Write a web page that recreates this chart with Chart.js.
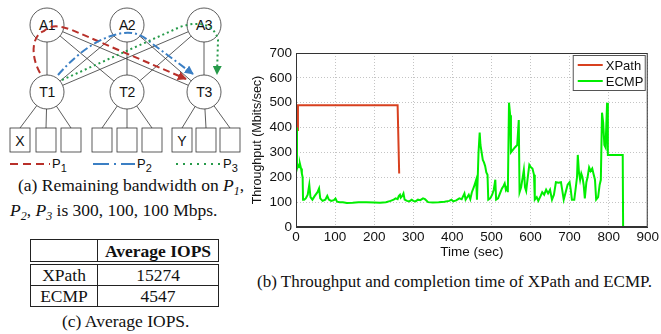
<!DOCTYPE html>
<html>
<head>
<meta charset="utf-8">
<script src="https://cdn.jsdelivr.net/npm/chart.js@4.4.1/dist/chart.umd.min.js"></script>
<style>
  html, body { margin: 0; padding: 0; background: #fff; }
  body { width: 661px; height: 334px; position: relative; overflow: hidden; }
  #diagram { position: absolute; left: 0; top: 0; }
  .cap { position: absolute; font-family: "Liberation Serif", "Times New Roman", serif; font-size: 17.5px; color: #111; white-space: nowrap; }
  .cap i { font-style: italic; }
  .cap sub { font-size: 12px; vertical-align: -4px; font-style: italic; }
  #iops { position: absolute; left: 30px; top: 239px; width: 189px; border-collapse: collapse;
          font-family: "Liberation Serif", "Times New Roman", serif; font-size: 17.5px; color: #111; }
  #iops td { border: 1.5px solid #222; text-align: center; padding: 0; height: 20px; line-height: 20px; }
  #iops tr.head td { border-bottom: 4px double #222; height: 21px; }
  #chartBox { position: absolute; left: 250px; top: 40px; width: 411px; height: 220px; }
</style>
</head>
<body>
<svg id="diagram" width="250" height="175" xmlns="http://www.w3.org/2000/svg"></svg>

<div class="cap" style="left:18px; top:175px;">(a) Remaining bandwidth on <i>P</i><sub>1</sub>,</div>
<div class="cap" style="left:10px; top:200px;"><i>P</i><sub>2</sub>, <i>P</i><sub>3</sub> is 300, 100, 100 Mbps.</div>

<table id="iops">
  <tr class="head"><td style="width:66px"></td><td><b>Average IOPS</b></td></tr>
  <tr><td>XPath</td><td>15274</td></tr>
  <tr><td>ECMP</td><td>4547</td></tr>
</table>
<div class="cap" style="left:62px; top:311px;">(c) Average IOPS.</div>

<div id="chartBox"><canvas id="throughputChart" width="411" height="220"></canvas></div>
<div class="cap" style="left:257px; top:272px; font-size:17px;">(b) Throughput and completion time of XPath and ECMP.</div>

<script>
(() => {
    'use strict';

    // XPath throughput
    const xpathTime = [3, 5, 260, 264];
    const xpathThroughput = [390, 490, 490, 215];

    // ECMP throughput
    const ecmpTime = [2, 2.5, 5, 8, 10, 13, 15, 17, 18, 21, 25, 30, 34, 37, 42, 48, 55, 59, 62, 68, 75, 80, 84, 90, 97, 101, 105, 112, 120, 130, 145, 160, 180, 200, 215, 230, 242, 250, 255, 260, 263, 266, 268, 272, 275, 278, 284, 290, 296, 300, 306, 312, 318, 325, 330, 338, 350, 365, 380, 392, 398, 402, 410, 418, 424, 428, 431, 434, 438, 442, 446, 450, 455, 459, 461, 463, 465, 467, 470, 472, 475, 478, 481, 484, 487, 490, 492, 497, 502, 506, 510, 512, 517, 522, 527, 531, 534, 537, 540, 542, 545, 548, 550, 555, 560, 566, 570, 572, 576, 580, 583, 586, 589, 593, 597, 601, 605, 609, 611, 616, 620, 626, 630, 635, 640, 645, 650, 655, 660, 665, 672, 678, 681, 685, 690, 695, 700, 703, 706, 712, 716, 719, 721, 724, 727, 730, 733, 736, 739, 743, 746, 750, 754, 758, 761, 765, 768, 773, 777, 780, 783, 786, 789, 792, 796, 798, 836, 837];
    const ecmpThroughput = [400, 235, 250, 240, 255, 235, 215, 200, 110, 110, 115, 130, 170, 120, 110, 125, 140, 155, 115, 105, 110, 125, 110, 105, 108, 115, 102, 100, 100, 97, 98, 100, 100, 99, 98, 100, 105, 110, 115, 112, 125, 130, 118, 125, 135, 110, 105, 103, 110, 105, 103, 110, 108, 115, 112, 100, 99, 100, 102, 105, 110, 103, 107, 115, 112, 125, 135, 110, 120, 130, 112, 140, 160, 180, 190, 110, 200, 300, 380, 330, 300, 270, 260, 245, 220, 210, 110, 115, 130, 150, 190, 110, 115, 135, 155, 165, 175, 150, 160, 140, 500, 450, 300, 310, 320, 330, 430, 140, 160, 200, 230, 160, 145, 200, 250, 240, 235, 210, 110, 120, 105, 125, 140, 130, 150, 135, 150, 110, 130, 180, 178, 180, 150, 110, 140, 170, 180, 150, 110, 110, 160, 200, 290, 220, 190, 215, 200, 170, 115, 180, 200, 240, 225, 235, 215, 190, 110, 120, 170, 190, 460, 420, 330, 320, 500, 290, 290, 0];

    const seriesNames = ['XPath', 'ECMP'];
    const seriesColors = ['#d8401f', '#00ee00'];

    const toPoints = (xs, ys) => xs.map((x, i) => ({ x: x, y: ys[i] }));

    // ---------- diagram (a) ----------
    const svg = document.getElementById('diagram');
    const NS = 'http://www.w3.org/2000/svg';
    function el(tag, attrs, text) {
        const e = document.createElementNS(NS, tag);
        for (const k in attrs) e.setAttribute(k, attrs[k]);
        if (text) e.textContent = text;
        svg.appendChild(e);
        return e;
    }

    const defs = el('defs', {});
    [['arR', '#b8302a'], ['arB', '#3b7fc4'], ['arG', '#279a4a']].forEach(([id, c]) => {
        const m = document.createElementNS(NS, 'marker');
        m.setAttribute('id', id);
        m.setAttribute('viewBox', '0 0 10 10');
        m.setAttribute('refX', '9');
        m.setAttribute('refY', '5');
        m.setAttribute('markerWidth', '4.5');
        m.setAttribute('markerHeight', '4.5');
        m.setAttribute('orient', 'auto');
        const p = document.createElementNS(NS, 'path');
        p.setAttribute('d', 'M0,0 L10,5 L0,10 z');
        p.setAttribute('fill', c);
        m.appendChild(p);
        defs.appendChild(m);
    });

    const R = 17;
    const aggs = [[47, 25, 'A1'], [127, 25, 'A2'], [204, 25, 'A3']];
    const tors = [[47, 92, 'T1'], [127, 92, 'T2'], [204, 92, 'T3']];
    const boxes = [[10, 'X'], [36, ''], [61, ''], [92, ''], [117, ''], [142, ''], [172, 'Y'], [196, ''], [220, '']];

    // A-T mesh
    aggs.forEach(a => tors.forEach(t => {
        const dx = t[0] - a[0], dy = t[1] - a[1];
        const L = Math.hypot(dx, dy);
        el('line', { x1: a[0] + dx / L * R, y1: a[1] + dy / L * R, x2: t[0] - dx / L * R, y2: t[1] - dy / L * R,
            stroke: '#333', 'stroke-width': 0.8 });
    }));
    // T-box links
    boxes.forEach((b, i) => {
        const t = tors[Math.floor(i / 3)];
        const bx = b[0] + 10, by = 128;
        const dx = bx - t[0], dy = by - t[1];
        const L = Math.hypot(dx, dy);
        el('line', { x1: t[0] + dx / L * R, y1: t[1] + dy / L * R, x2: bx, y2: by, stroke: '#333', 'stroke-width': 0.8 });
        el('rect', { x: b[0], y: 128, width: 20, height: 24, fill: '#fff', stroke: '#333', 'stroke-width': 0.8 });
        if (b[1]) el('text', { x: bx, y: 146, 'text-anchor': 'middle', 'font-family': 'Liberation Sans, Arial, sans-serif', 'font-size': 14, fill: '#111' }, b[1]);
    });
    aggs.concat(tors).forEach(n => {
        el('circle', { cx: n[0], cy: n[1], r: R, fill: 'none', stroke: '#333', 'stroke-width': 0.8 });
        el('text', { x: n[0], y: n[1] + 5, 'text-anchor': 'middle', 'font-family': 'Liberation Sans, Arial, sans-serif', 'font-size': 14, fill: '#111', 'letter-spacing': '-0.5' }, n[2]);
    });

    // paths P1, P2, P3
    el('path', { d: 'M40,73 C30,55 32,35 44,31 C52,24 60,26 72,30 L186,79', fill: 'none', stroke: '#b8302a', 'stroke-width': 2, 'stroke-dasharray': '7,4', 'marker-end': 'url(#arR)' });
    el('path', { d: 'M58,75 C80,50 100,38 118,34 C130,31 140,33 150,42 L193,74', fill: 'none', stroke: '#3b7fc4', 'stroke-width': 2, 'stroke-dasharray': '8,3,2,3', 'marker-end': 'url(#arB)' });
    el('path', { d: 'M62,80 L180,27 C200,20 215,25 218,40 L217,74', fill: 'none', stroke: '#279a4a', 'stroke-width': 2, 'stroke-dasharray': '2,3', 'marker-end': 'url(#arG)' });

    // legend of the diagram
    el('line', { x1: 10, y1: 164, x2: 50, y2: 164, stroke: '#b8302a', 'stroke-width': 2, 'stroke-dasharray': '8,5' });
    el('line', { x1: 93, y1: 164, x2: 135, y2: 164, stroke: '#3b7fc4', 'stroke-width': 2, 'stroke-dasharray': '16,5,2,5' });
    el('line', { x1: 176, y1: 164, x2: 221, y2: 164, stroke: '#279a4a', 'stroke-width': 2, 'stroke-dasharray': '2,5' });
    [[52, '1'], [137, '2'], [223, '3']].forEach(([x, s]) => {
        const t = el('text', { x: x, y: 168, 'font-family': 'Liberation Sans, Arial, sans-serif', 'font-size': 13, fill: '#111' }, 'P');
        const sub = document.createElementNS(NS, 'tspan');
        sub.setAttribute('dy', '4');
        sub.setAttribute('font-size', '11');
        sub.textContent = s;
        t.appendChild(sub);
    });

    // ---------- chart (b) ----------
    const frameAndLegend = {
        id: 'frameAndLegend',
        afterDraw(chart) {
            const { ctx, chartArea: a } = chart;
            ctx.save();
            ctx.strokeStyle = '#333';
            ctx.lineWidth = 1;
            ctx.strokeRect(a.left + 0.5, a.top + 0.5, a.right - a.left - 1, a.bottom - a.top - 1);

            // legend box top right, MATLAB style
            const w = 72, h = 35;
            const x0 = a.right - w - 3, y0 = a.top + 2;
            ctx.fillStyle = '#fff';
            ctx.fillRect(x0, y0, w, h);
            ctx.strokeStyle = '#555';
            ctx.strokeRect(x0 + 0.5, y0 + 0.5, w, h);
            ctx.font = '13px "Liberation Sans", Arial, sans-serif';
            ctx.textBaseline = 'middle';
            chart.data.datasets.forEach((ds, i) => {
                const y = y0 + 10 + i * 16;
                ctx.strokeStyle = ds.borderColor;
                ctx.lineWidth = 2;
                ctx.beginPath();
                ctx.moveTo(x0 + 5, y);
                ctx.lineTo(x0 + 30, y);
                ctx.stroke();
                ctx.fillStyle = '#111';
                ctx.fillText(ds.label, x0 + 33, y + 1);
            });
            ctx.restore();
        }
    };

    const gridStyle = { color: '#c4c4c4', lineWidth: 1, drawTicks: false };
    const tickFont = { family: '"Liberation Sans", Arial, sans-serif', size: 13.5 };

    new Chart(document.getElementById('throughputChart'), {
        type: 'line',
        data: {
            datasets: [{
                label: seriesNames[0],
                data: toPoints(xpathTime, xpathThroughput),
                borderColor: seriesColors[0],
                borderWidth: 2,
                pointRadius: 0,
                tension: 0,
                order: 1
            }, {
                label: seriesNames[1],
                data: toPoints(ecmpTime, ecmpThroughput),
                borderColor: seriesColors[1],
                borderWidth: 2,
                pointRadius: 0,
                tension: 0,
                order: 0
            }]
        },
        options: {
            responsive: false,
            animation: false,
            layout: { padding: { top: 13, right: 12, left: 0, bottom: 0 } },
            plugins: {
                legend: { display: false },
                tooltip: { enabled: false }
            },
            scales: {
                x: {
                    type: 'linear',
                    min: 0,
                    max: 900,
                    ticks: { stepSize: 100, color: '#111', font: tickFont, padding: 2, maxRotation: 0 },
                    grid: gridStyle,
                    border: { display: true, color: '#333', dash: [1, 2] },
                    title: { display: true, text: 'Time (sec)', color: '#111', font: tickFont, padding: { top: -5, bottom: 0 } },
                    afterFit: s => { s.height = 33; }
                },
                y: {
                    min: 0,
                    max: 700,
                    ticks: { stepSize: 100, color: '#111', font: tickFont, padding: 4 },
                    grid: gridStyle,
                    border: { display: true, color: '#333', dash: [1, 2] },
                    title: { display: true, text: 'Throughput (Mbits/sec)', color: '#111', font: { family: tickFont.family, size: 12.5 }, padding: { top: 0, bottom: 0 } },
                    afterFit: s => { s.width = 46; }
                }
            }
        },
        plugins: [frameAndLegend]
    });
})();
</script>
</body>
</html>
